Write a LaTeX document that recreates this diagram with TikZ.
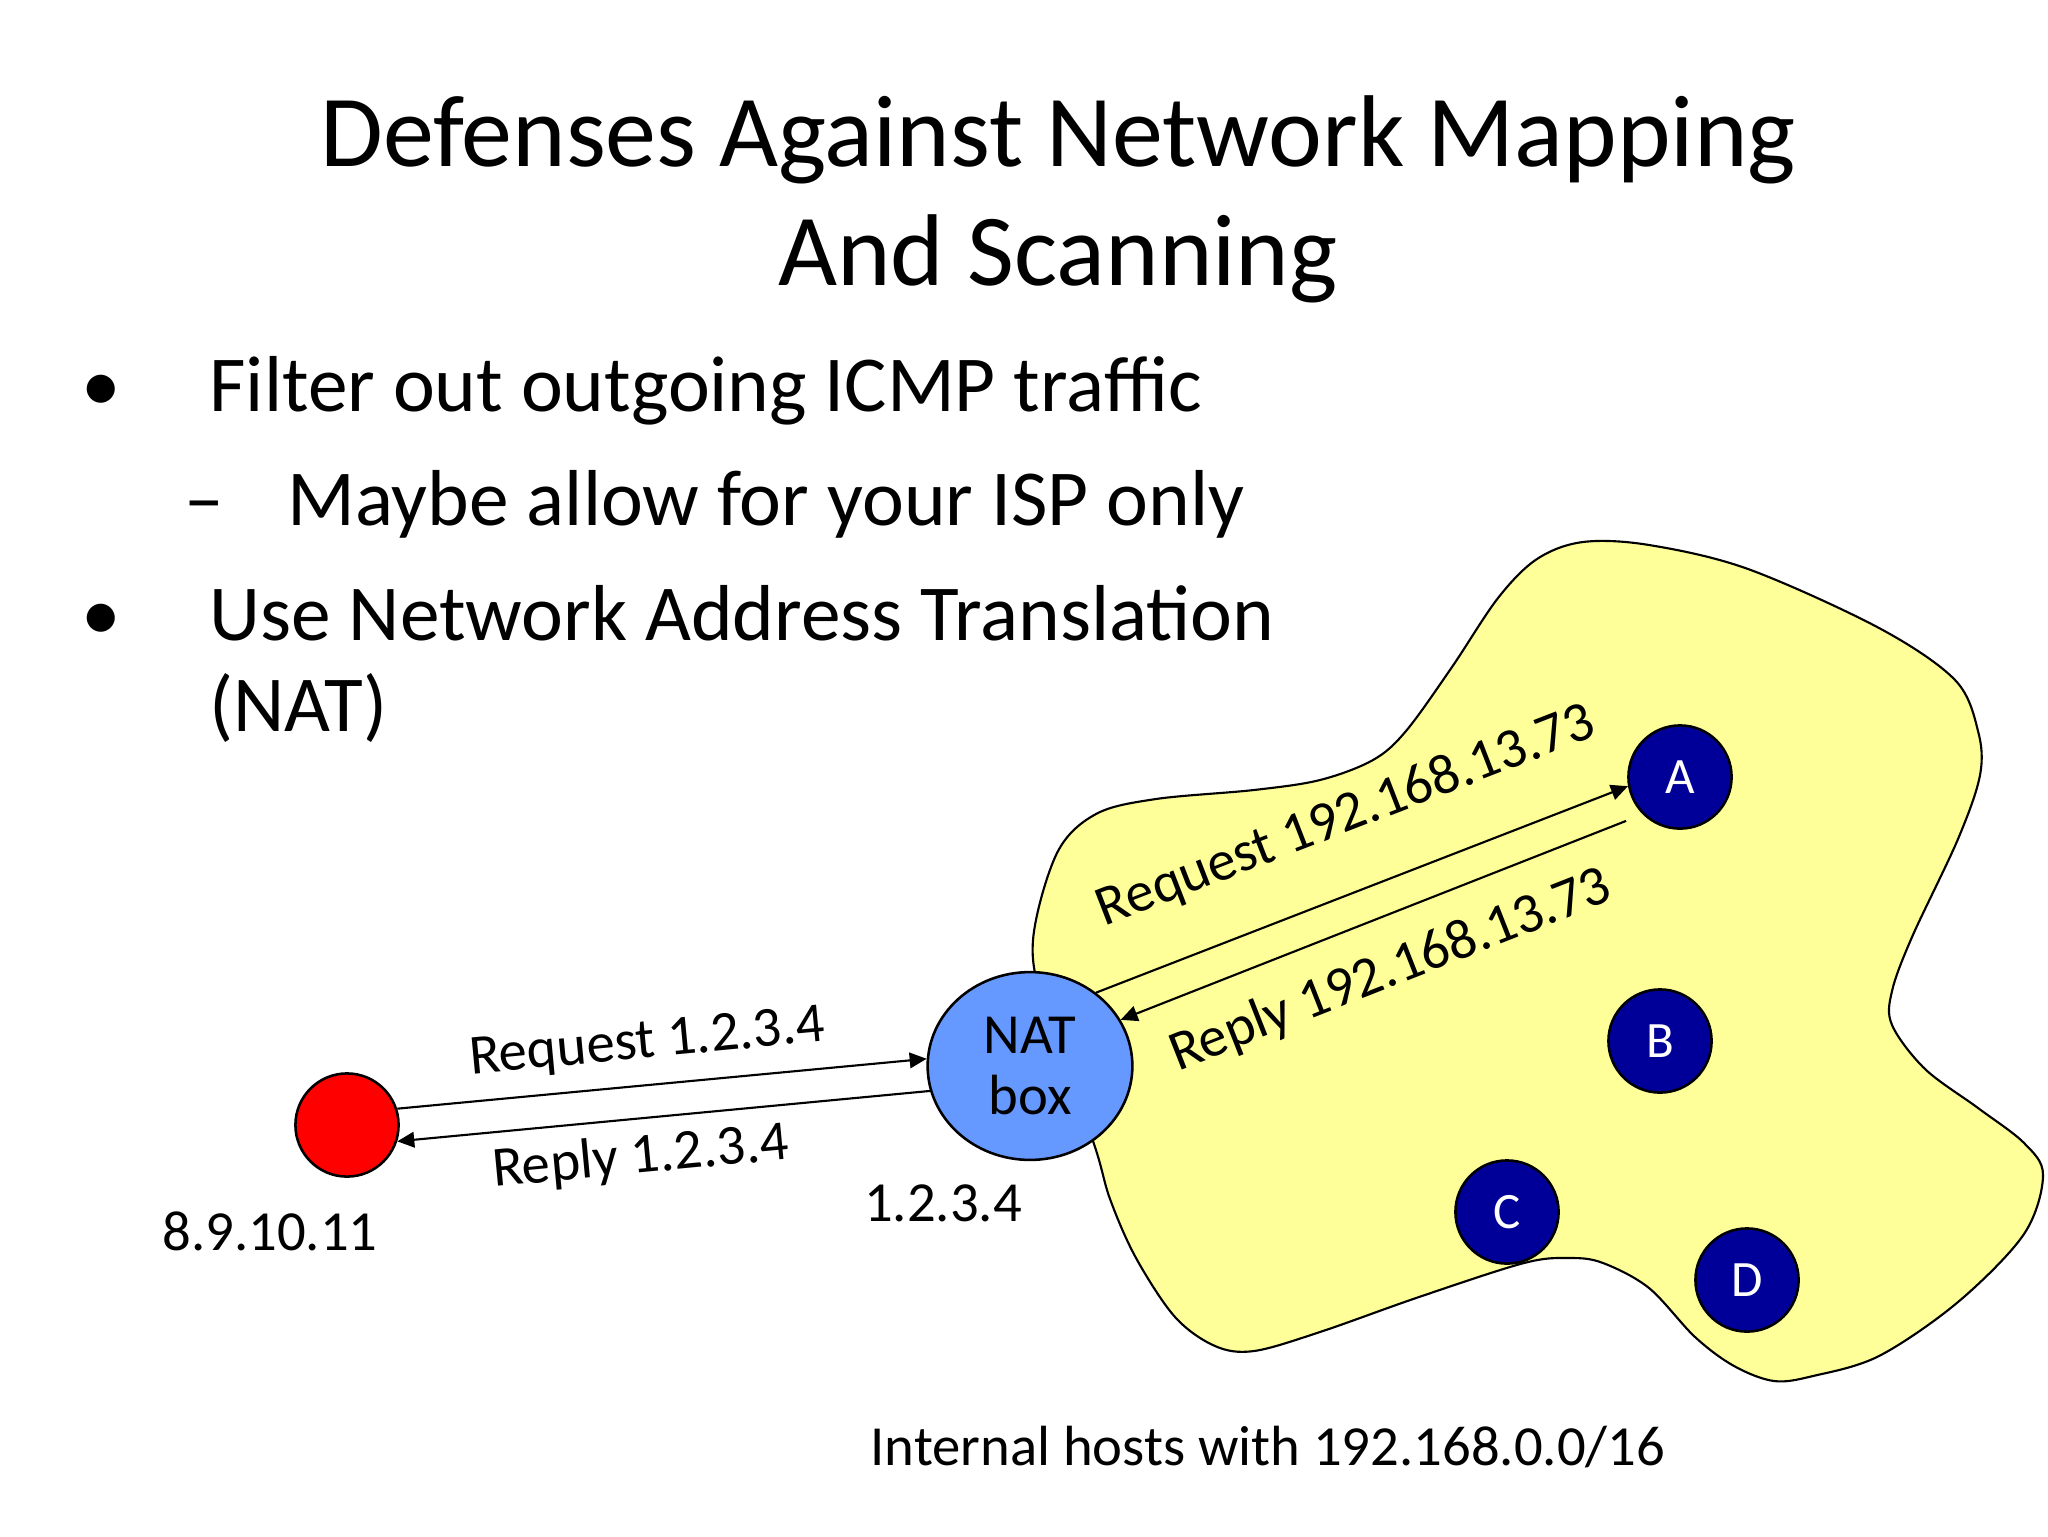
\documentclass[tikz,border=0pt]{standalone}
\usepackage{fontspec}
\setmainfont{Carlito}
\usetikzlibrary{arrows.meta,shapes.geometric}

\definecolor{natblue}{RGB}{102,153,255}
\definecolor{hostblue}{RGB}{0,0,153}
\definecolor{lanyellow}{RGB}{255,255,153}

\begin{document}
\begin{tikzpicture}[x=0.0124023cm, y=-0.0124023cm,
    host/.style={circle, draw, line width=0.9pt, fill=hostblue, text=white,
        minimum size=1.28cm, inner sep=0pt, font=\fontsize{18}{22}\selectfont},
    msg/.style={line width=0.75pt, -{Triangle[length=6pt,width=5.5pt]}},
    lbl/.style={inner sep=0pt, font=\fontsize{20}{24}\selectfont},
    bodytext/.style={anchor=base west, inner sep=0pt, align=left,
        font=\fontsize{28}{32}\selectfont}]
    \useasboundingbox[fill=white] (0,0) rectangle (2048,1536);

    \node[anchor=base, inner sep=0pt, align=center,
        font=\fontsize{36}{41.8}\selectfont] (title) at (1058,285)
        {Defenses Against Network Mapping\\And Scanning};

    \node[anchor=base, inner sep=0pt, font=\fontsize{28}{32}\selectfont] (b1) at (101,411) {\textbullet};
    \node[bodytext] (t1) at (209,411) {Filter out outgoing ICMP traffic};
    \node[anchor=base, inner sep=0pt, font=\fontsize{28}{32}\selectfont] (d1) at (204,525) {\textendash};
    \node[bodytext] (t2) at (287,525) {Maybe allow for your ISP only};
    \node[anchor=base, inner sep=0pt, font=\fontsize{28}{32}\selectfont] (b2) at (101,640) {\textbullet};
    \node[bodytext] (t3) at (209,731) {Use Network Address Translation\\(NAT)};

    % internal network
    \draw[fill=lanyellow, line width=0.75pt] plot[smooth cycle, tension=0.55] coordinates {
        (1045,1010) (1033,940) (1057,853) (1096,814) (1156,799) (1254,790)
        (1320,780) (1373,760) (1406,731) (1452,667) (1498,598) (1537,559)
        (1583,542) (1649,545) (1748,569) (1879,628) (1955,680) (1978,731)
        (1980,775) (1958,839) (1912,937) (1892,991) (1892,1025) (1925,1069)
        (1978,1108) (2024,1143) (2043,1175) (2024,1234) (1958,1302) (1879,1356)
        (1813,1376) (1774,1381) (1734,1366) (1695,1337) (1649,1288) (1603,1263)
        (1570,1258) (1524,1263) (1419,1297) (1320,1332) (1254,1351) (1215,1346)
        (1175,1317) (1136,1258) (1110,1199) (1093,1141)};

    \node[circle, draw, line width=0.9pt, fill=red, minimum size=1.28cm] (outside) at (347,1125) {};
    \node[ellipse, draw, line width=0.9pt, fill=natblue, minimum width=2.54cm,
        minimum height=2.33cm, inner sep=0pt, align=center,
        font=\fontsize{20}{21.5}\selectfont] (nat) at (1030,1066) {NAT\\box};

    \node[host] (A) at (1680,777) {A};
    \node[host] (B) at (1660,1041) {B};
    \node[host] (C) at (1507,1212) {C};
    \node[host] (D) at (1747,1280) {D};

    \draw[msg] (outside.18) -- node[lbl, pos=0.48, sloped, above=6pt] {Request 1.2.3.4} (nat.176);
    \draw[msg] (nat.194) -- node[lbl, pos=0.55, sloped, below=5pt] {Reply 1.2.3.4} (outside.-18);
    \draw[msg] (nat.48) -- node[lbl, pos=0.52, sloped, above=17pt] {Request 192.168.13.73} (A.190);
    \draw[msg, shorten <=0.22cm] (A.225) -- node[lbl, pos=0.52, sloped, below=10pt] {Reply 192.168.13.73} (nat.27);

    \node[lbl, anchor=base] (outaddr) at (270,1250) {8.9.10.11};
    \node[lbl, anchor=base] (nataddr) at (943,1221) {1.2.3.4};
    \node[lbl, anchor=base] (lanaddr) at (1268,1465) {Internal hosts with 192.168.0.0/16};
\end{tikzpicture}
\end{document}
